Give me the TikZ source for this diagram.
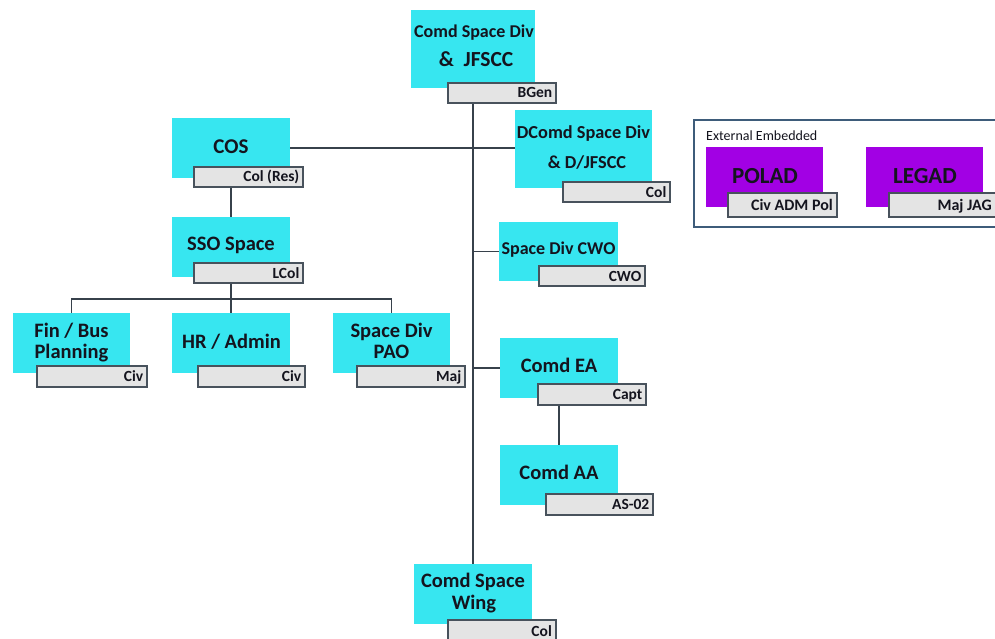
\documentclass[tikz,border=0pt]{standalone}
\usepackage{fontspec}
\setmainfont{Carlito}
\usetikzlibrary{fit}
\definecolor{cyanc}{RGB}{55,230,240}
\definecolor{purc}{RGB}{162,0,228}
\definecolor{greyc}{RGB}{228,228,228}
\definecolor{bordc}{RGB}{72,82,92}
\definecolor{linec}{RGB}{55,65,75}
\definecolor{framec}{RGB}{62,92,122}
\definecolor{txtc}{RGB}{20,20,30}
\tikzset{
  cy/.style={fill=cyanc, inner sep=0pt, draw=none},
  pu/.style={fill=purc, inner sep=0pt, draw=none},
  gr/.style={fill=greyc, draw=bordc, line width=1.5pt, inner sep=0pt},
  ln/.style={draw=linec, line width=1.8pt},
  tx/.style={anchor=base, inner sep=0pt, text=txtc, font=\bfseries\fontsize{20.5}{24}\selectfont},
  txs/.style={tx, font=\bfseries\fontsize{18}{22}\selectfont},
  lb/.style={anchor=base east, inner sep=0pt, text=txtc, font=\bfseries\fontsize{15.5}{18}\selectfont},
}
\begin{document}
\begin{tikzpicture}[x=1pt,y=-1pt]
\clip (0,0) rectangle (995,639);
\fill[white] (0,0) rectangle (995,639);
% cyan boxes
\node[cy, fit={(411,10) (535,88)}] (top) {};
\node[cy, fit={(172,118) (290,178)}] (cos) {};
\node[cy, fit={(172,217) (290,277)}] (sso) {};
\node[cy, fit={(515,110) (652,188)}] (dcomd) {};
\node[cy, fit={(499,222) (618,281)}] (cwo) {};
\node[cy, fit={(13,313) (130,373)}] (fin) {};
\node[cy, fit={(172,313) (290,373)}] (hr) {};
\node[cy, fit={(333,313) (450,373)}] (pao) {};
\node[cy, fit={(500,338) (618,398)}] (ea) {};
\node[cy, fit={(500,445) (618,505)}] (aa) {};
\node[cy, fit={(414,564) (532,624)}] (wing) {};
% external frame
\node[draw=framec, line width=1.5pt, inner sep=0pt, fit={(694,120) (1005,227)}] (ext) {};
\node[anchor=base west, inner sep=0pt, text=txtc, font=\fontsize{14}{17}\selectfont] (extT) at (706,141) {External Embedded};
\node[pu, fit={(706,147) (823,207)}] (polad) {};
\node[pu, fit={(866,147) (983,207)}] (legad) {};
% grey rank boxes
\node[gr, fit={(448,83) (556,103)}] (topG) {};
\node[gr, fit={(194,167) (303,187)}] (cosG) {};
\node[gr, fit={(194,263) (303,283)}] (ssoG) {};
\node[gr, fit={(563,182) (670,202)}] (dG) {};
\node[gr, fit={(539,266) (645,286)}] (cwoG) {};
\node[gr, fit={(37,366) (147,387)}] (finG) {};
\node[gr, fit={(198,366) (305,387)}] (hrG) {};
\node[gr, fit={(357,366) (465,387)}] (paoG) {};
\node[gr, fit={(538,384) (646,405)}] (eaG) {};
\node[gr, fit={(546,494) (653,515)}] (aaG) {};
\node[gr, fit={(448,620) (556,648)}] (wingG) {};
\node[gr, fit={(728,193) (837,217)}] (polG) {};
\node[gr, fit={(889,193) (1002,217)}] (legG) {};
% main texts
\node[txs] (topT1) at (474,38) {Comd Space Div};
\node[tx, font=\bfseries\fontsize{21.5}{25}\selectfont] (topT2) at (476,67) {\&\ \ JFSCC};
\node[tx, font=\bfseries\fontsize{21}{25}\selectfont] (cosT) at (231,154) {COS};
\node[tx] (ssoT) at (231,250.5) {SSO Space};
\node[txs, font=\bfseries\fontsize{18.3}{22}\selectfont] (dT1) at (583.5,139) {DComd Space Div};
\node[txs, font=\bfseries\fontsize{18.3}{22}\selectfont] (dT2) at (587,168) {\& D/JFSCC};
\node[txs] (cwoT) at (558.5,254) {Space Div CWO};
\node[tx] (finT1) at (71.5,337) {Fin / Bus};
\node[tx] (finT2) at (71.5,358) {Planning};
\node[tx] (hrT) at (231.5,348) {HR / Admin};
\node[tx] (paoT1) at (391.5,337) {Space Div};
\node[tx] (paoT2) at (391.5,358) {PAO};
\node[tx] (eaT) at (559,372) {Comd EA};
\node[tx] (aaT) at (559,479) {Comd AA};
\node[tx] (wingT1) at (473,587) {Comd Space};
\node[tx] (wingT2) at (474,609) {Wing};
\node[tx, font=\bfseries\fontsize{23}{27}\selectfont] (polT) at (765,183) {POLAD};
\node[tx, font=\bfseries\fontsize{23}{27}\selectfont] (legT) at (925,183) {LEGAD};
% rank labels
\node[lb] (topL) at (552.5,98) {BGen};
\node[lb] (cosL) at (299.5,182) {Col (Res)};
\node[lb] (ssoL) at (299.5,278) {LCol};
\node[lb] (dL) at (666.5,197) {Col};
\node[lb] (cwoL) at (641.5,281) {CWO};
\node[lb] (finL) at (143.5,381.5) {Civ};
\node[lb] (hrL) at (301.5,381.5) {Civ};
\node[lb] (paoL) at (461.5,381.5) {Maj};
\node[lb] (eaL) at (642.5,399.5) {Capt};
\node[lb] (aaL) at (649.5,509.5) {AS-02};
\node[lb] (wingL) at (552,636) {Col};
\node[lb, font=\bfseries\fontsize{16}{19}\selectfont] (polL) at (833,210) {Civ ADM Pol};
\node[lb, font=\bfseries\fontsize{16}{19}\selectfont] (legL) at (992,210) {Maj JAG};
% connectors
\coordinate (bus) at (231,299);
\draw[ln] (topG.south -| top.south) -- (wing.north);
\draw[ln] (cos.east) -- (cos.east -| dcomd.west);
\draw[ln] (cosG.south -| cos.south) -- (sso.north);
\draw[ln] (ssoG.south -| sso.south) -- (hr.north);
\draw[ln] (fin.north) |- (bus) -| (pao.north);
\draw[ln] (cwo.west) -- (cwo.west -| top.south);
\draw[ln] (ea.west) -- (ea.west -| top.south);
\draw[ln] (eaG.south -| ea.south) -- (aa.north);
\end{tikzpicture}
\end{document}
